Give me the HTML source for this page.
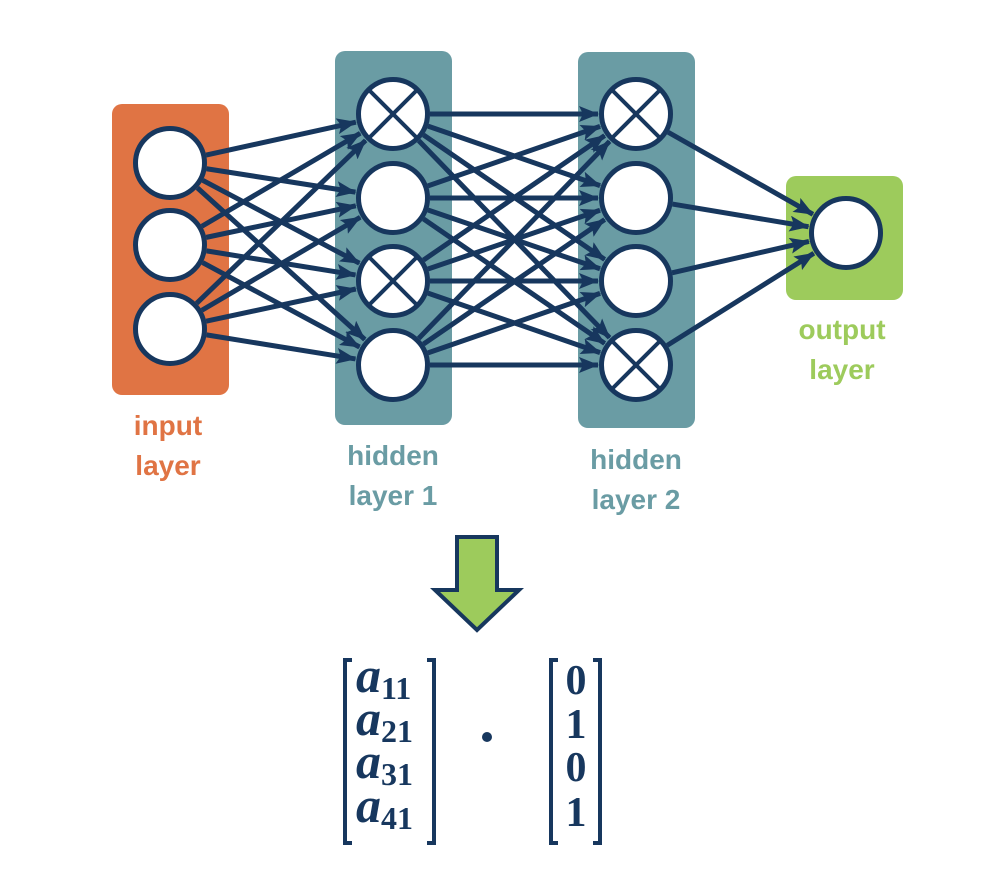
<!DOCTYPE html>
<html><head><meta charset="utf-8"><style>
html,body{margin:0;padding:0;background:#fff;width:986px;height:874px;overflow:hidden}
svg{display:block}
.lbl{font-family:"Liberation Sans",sans-serif;font-weight:bold;font-size:28px;text-anchor:middle}
.m{font-family:"Liberation Serif",serif;font-weight:bold;fill:#17375e}
</style></head><body>
<svg id="s" width="986" height="874" viewBox="0 0 986 874" xmlns="http://www.w3.org/2000/svg">
<defs><marker id="ah" markerWidth="20" markerHeight="16" refX="19" refY="8" orient="auto" markerUnits="userSpaceOnUse"><path d="M0,0 L20,8 L0,16 L4,8 z" fill="#17375e"/></marker></defs>
<rect x="112" y="104" width="117" height="291" rx="10" fill="#e07444"/>
<rect x="335" y="51" width="117" height="374" rx="10" fill="#6a9ca4"/>
<rect x="578" y="52" width="117" height="376" rx="10" fill="#6a9ca4"/>
<rect x="786" y="176" width="117" height="124" rx="10" fill="#9dcb5c"/>
<g id="lines" stroke="#17375e" stroke-width="5" fill="none"></g>
<g id="nodes"></g>
<text class="lbl" fill="#e07444" x="168" y="435">input</text>
<text class="lbl" fill="#e07444" x="168" y="475">layer</text>
<text class="lbl" fill="#6a9ca4" x="393" y="465">hidden</text>
<text class="lbl" fill="#6a9ca4" x="393" y="505">layer 1</text>
<text class="lbl" fill="#6a9ca4" x="636" y="469">hidden</text>
<text class="lbl" fill="#6a9ca4" x="636" y="509">layer 2</text>
<text class="lbl" fill="#9dcb5c" x="842" y="339">output</text>
<text class="lbl" fill="#9dcb5c" x="842" y="379">layer</text>
<path d="M457,537 L497,537 L497,590 L519,590 L477,630 L435,590 L457,590 Z" fill="#9dcb5c" stroke="#17375e" stroke-width="4" stroke-linejoin="miter"/>
<g stroke="#17375e" stroke-width="4" fill="none">
<path d="M352,660 L345,660 L345,843 L352,843"/>
<path d="M427,660 L434,660 L434,843 L427,843"/>
<path d="M558,660 L551,660 L551,843 L558,843"/>
<path d="M593,660 L600,660 L600,843 L593,843"/>
</g>
<g class="m">
<text x="356" y="692" font-size="50" font-style="italic">a<tspan font-size="32" font-style="normal" dy="7">11</tspan></text>
<text x="356" y="735" font-size="50" font-style="italic">a<tspan font-size="32" font-style="normal" dy="7">21</tspan></text>
<text x="356" y="778" font-size="50" font-style="italic">a<tspan font-size="32" font-style="normal" dy="7">31</tspan></text>
<text x="356" y="822" font-size="50" font-style="italic">a<tspan font-size="32" font-style="normal" dy="7">41</tspan></text>
<text x="576" y="694" font-size="42" text-anchor="middle">0</text>
<text x="576" y="738" font-size="42" text-anchor="middle">1</text>
<text x="576" y="781" font-size="42" text-anchor="middle">0</text>
<text x="576" y="826" font-size="42" text-anchor="middle">1</text>
</g>
<circle cx="487" cy="737" r="5" fill="#17375e"/>
</svg>
<script>
var NS="http://www.w3.org/2000/svg",R=37;
var L=[[[170,163],[170,245],[170,329]],[[393,114],[393,198],[393,281],[393,365]],[[636,114],[636,198],[636,281],[636,365]],[[846,233]]];
var X={"1,0":1,"1,2":1,"2,0":1,"2,3":1};
var lg=document.getElementById("lines"),ng=document.getElementById("nodes");
for(var l=0;l<3;l++)for(var i=0;i<L[l].length;i++)for(var j=0;j<L[l+1].length;j++){
var a=L[l][i],b=L[l+1][j],dx=b[0]-a[0],dy=b[1]-a[1],d=Math.hypot(dx,dy),ux=dx/d,uy=dy/d;
var p=document.createElementNS(NS,"line");
p.setAttribute("x1",a[0]+ux*R);p.setAttribute("y1",a[1]+uy*R);
p.setAttribute("x2",b[0]-ux*(R+1));p.setAttribute("y2",b[1]-uy*(R+1));
p.setAttribute("marker-end","url(#ah)");lg.appendChild(p);}
for(var l=0;l<4;l++)for(var i=0;i<L[l].length;i++){
var c=L[l][i],e=document.createElementNS(NS,"circle");
e.setAttribute("cx",c[0]);e.setAttribute("cy",c[1]);e.setAttribute("r",R-2.5);
e.setAttribute("fill","#fff");e.setAttribute("stroke","#17375e");e.setAttribute("stroke-width","5");ng.appendChild(e);
if(X[l+","+i]){var k=(R-2.5)*0.7071;
[[c[0]-k,c[1]-k,c[0]+k,c[1]+k],[c[0]+k,c[1]-k,c[0]-k,c[1]+k]].forEach(function(q){
var t=document.createElementNS(NS,"line");t.setAttribute("x1",q[0]);t.setAttribute("y1",q[1]);t.setAttribute("x2",q[2]);t.setAttribute("y2",q[3]);
t.setAttribute("stroke","#17375e");t.setAttribute("stroke-width","4");ng.appendChild(t);});}}
</script>
</body></html>
